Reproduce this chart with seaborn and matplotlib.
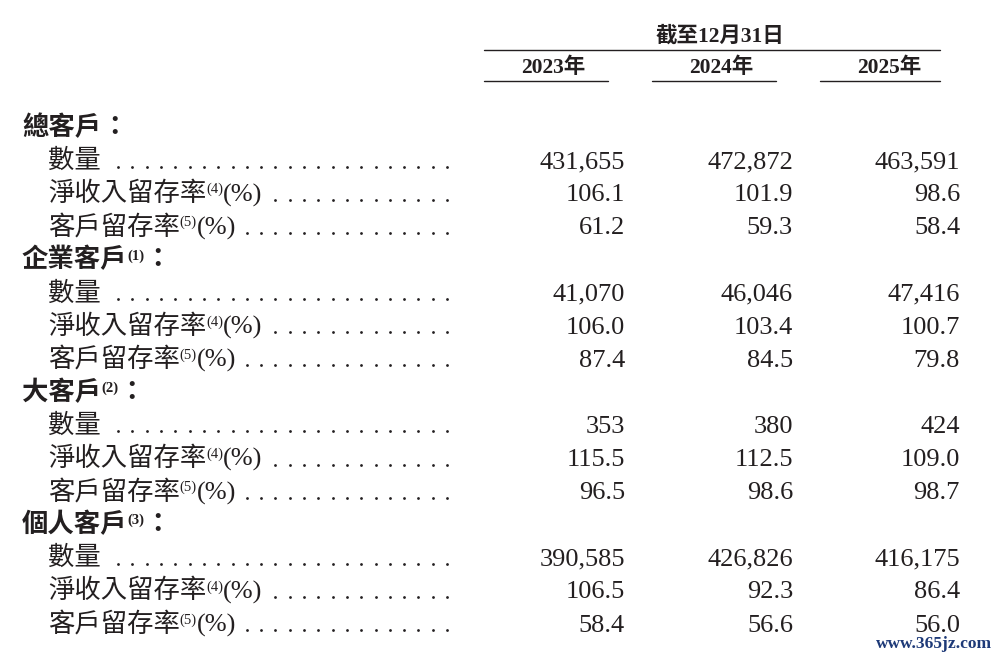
import numpy as np
import pandas as pd
import seaborn as sns
import matplotlib.pyplot as plt

header = '截至12月31日'
years = ['2023年', '2024年', '2025年']
groups = ['總客戶', '企業客戶', '大客戶', '個人客戶']
group_notes = ['', '(1)', '(2)', '(3)']
metrics = ['數量', '淨收入留存率', '客戶留存率']
metric_notes = ['', '(4)', '(5)']
count_vals = [[431655, 472872, 463591],
              [41070, 46046, 47416],
              [353, 380, 424],
              [390585, 426826, 416175]]
nrr_vals = [[106.1, 101.9, 98.6],
            [106.0, 103.4, 100.7],
            [115.5, 112.5, 109.0],
            [106.5, 92.3, 86.4]]
retention_vals = [[61.2, 59.3, 58.4],
                  [87.4, 84.5, 79.8],
                  [96.5, 98.6, 98.7],
                  [58.4, 56.6, 56.0]]
watermark = 'www.365jz.com'

# build one row per line of the table
rows = []
for g, grp in enumerate(groups):
    rows.append(dict(kind='group', label=grp, note=group_notes[g], vals=None))
    for m, met in enumerate(metrics):
        src = [count_vals, nrr_vals, retention_vals][m]
        if m == 0:
            vals = [f'{v:,}' for v in src[g]]
        else:
            vals = [f'{v:.1f}' for v in src[g]]
        rows.append(dict(kind='metric', label=met, note=metric_notes[m],
                         pct=(m > 0), vals=vals))
table = pd.DataFrame(rows)

sns.set_theme(style='white')
FAM = ['Liberation Serif', 'Noto Sans CJK TC', 'DejaVu Sans']
plt.rcParams['font.family'] = FAM
INK = '#231f20'

fig = plt.figure(figsize=(10, 6.58), dpi=100)
ax = fig.add_axes([0, 0, 1, 1])
ax.set_xlim(0, 1000)
ax.set_ylim(658, 0)
ax.axis('off')
renderer = fig.canvas.get_renderer()


def run(x, y, pieces):
    """draw text pieces one after another, return end x"""
    for txt, size, weight, dy in pieces:
        t = ax.text(x, y + dy, txt, fontsize=size, fontweight=weight,
                    color=INK, ha='left', va='baseline', family=FAM)
        bb = t.get_window_extent(renderer)
        x += bb.width
    return x


# column header
ax.text(720, 42, header, fontsize=15.5, fontweight='bold', color=INK,
        ha='center', va='baseline')
ax.plot([484, 940], [50, 50], color=INK, lw=1.0)
year_x = [553, 721, 889]
seg = [(484, 608), (652, 776), (820, 940)]
for yr, xc, (a, b) in zip(years, year_x, seg):
    ax.text(xc, 73, yr, fontsize=15.5, fontweight='bold', color=INK,
            ha='center', va='baseline')
    ax.plot([a, b], [80.5, 80.5], color=INK, lw=1.0)

# body
val_x = [625, 793, 960]
dot_end, dot_step = 447, 14.3
for i, r in table.iterrows():
    base = 126 + i * 33.1 + 9
    if r['kind'] == 'group':
        run(22, base, [(r['label'], 19, 'bold', 0),
                       (r['note'], 10.5, 'bold', -8),
                       ('：', 19, 'bold', 0)])
        continue
    pieces = [(r['label'], 19, 'normal', 0)]
    if r['note']:
        pieces.append((r['note'], 10.5, 'normal', -8))
    if r['pct']:
        pieces.append(('(%)', 19, 'normal', 0))
    end = run(48, base, pieces)
    k = int(np.floor((dot_end - end - 4) / dot_step))
    dx = dot_end - np.arange(k + 1) * dot_step
    ax.plot(dx, np.full_like(dx, base - 1.5), 'o', ms=2.0, color=INK,
            markeredgewidth=0)
    for v, xv in zip(r['vals'], val_x):
        ax.text(xv, base, v, fontsize=19, color=INK, ha='right',
                va='baseline')

ax.text(934, 648, watermark, fontsize=12.5, color='#1e3a78', ha='center',
        va='baseline', family='Liberation Serif', fontweight='bold')

fig.savefig('out.png', dpi=100, facecolor='white')
